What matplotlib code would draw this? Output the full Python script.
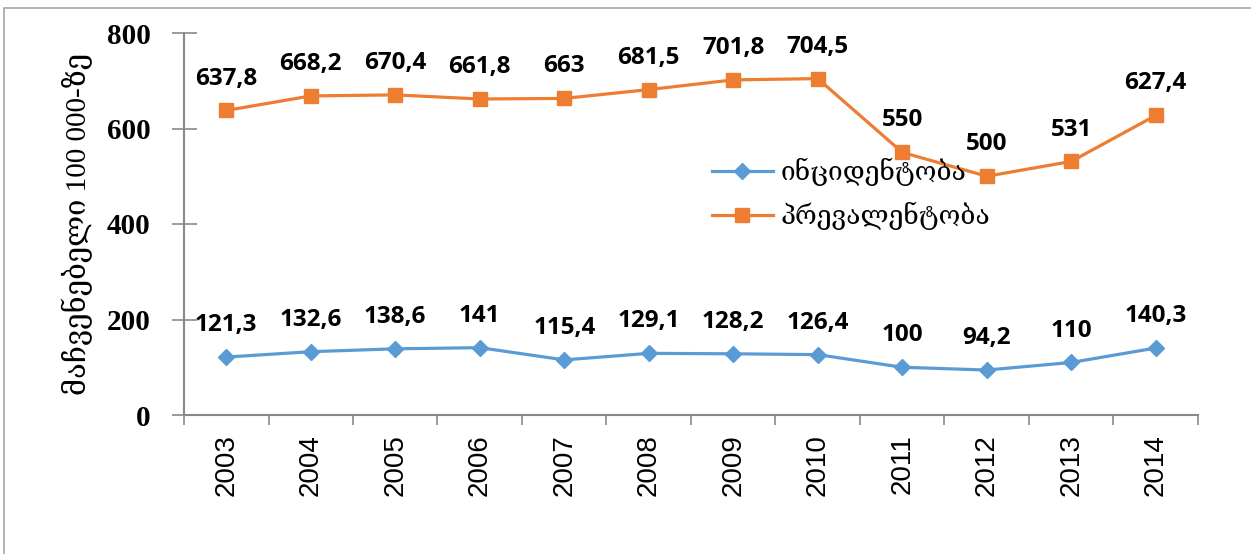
import matplotlib
matplotlib.use("Agg")
import matplotlib.pyplot as plt
from matplotlib.patches import Rectangle

# data
years = ["2003", "2004", "2005", "2006", "2007", "2008",
         "2009", "2010", "2011", "2012", "2013", "2014"]
incidence = [121.3, 132.6, 138.6, 141, 115.4, 129.1,
             128.2, 126.4, 100, 94.2, 110, 140.3]
prevalence = [637.8, 668.2, 670.4, 661.8, 663, 681.5,
              701.8, 704.5, 550, 500, 531, 627.4]
inc_name = "ინციდენტობა"
prev_name = "პრევალენტობა"
ylabel = "მაჩვენებელი 100 000-ზე"

BLUE = "#5B9BD5"
ORANGE = "#ED7D31"
GREY = "#898989"


def fmt(v):
    """Label like Excel with a comma decimal separator"""
    s = ("%.1f" % v).rstrip("0").rstrip(".")
    return s.replace(".", ",")


fig = plt.figure(figsize=(12.51, 5.54), dpi=100)
fig.patches.append(Rectangle((4 / 1251, -0.1), 1.2, 1 - 8 / 554 + 0.1,
                             transform=fig.transFigure, fill=False,
                             edgecolor="#a6a6a6", linewidth=1.2))
ax = fig.add_axes([184 / 1251, (554 - 415) / 554,
                   (1198 - 184) / 1251, (415 - 33) / 554])

x = list(range(len(years)))
ax.plot(x, incidence, color=BLUE, lw=2.3, marker="D", ms=8, label=inc_name)
ax.plot(x, prevalence, color=ORANGE, lw=2.3, marker="s", ms=9.5, label=prev_name)

for xi, v in zip(x, incidence):
    ax.annotate(fmt(v), (xi, v), xytext=(0, 23), textcoords="offset points",
                ha="center", va="center", fontsize=17.5, fontweight="bold",
                family="Open Sans")
for xi, v in zip(x, prevalence):
    ax.annotate(fmt(v), (xi, v), xytext=(0, 23), textcoords="offset points",
                ha="center", va="center", fontsize=17.5, fontweight="bold",
                family="Open Sans")

ax.set_xlim(-0.5, len(years) - 0.5)
ax.set_ylim(0, 800)

ax.tick_params(axis="y", direction="inout", length=18, width=1.2,
               color=GREY, pad=15)
ax.tick_params(axis="x", which="major", length=0, pad=14)
ax.tick_params(axis="x", which="minor", direction="out", length=7,
               width=1.2, color=GREY)

ax.set_yticks([0, 200, 400, 600, 800])
ax.set_yticklabels(["0", "200", "400", "600", "800"], family="Liberation Serif",
                   fontweight="bold", fontsize=21)
ax.set_xticks(x)
ax.set_xticklabels(years, rotation=90, family="Liberation Sans", fontsize=20)
ax.set_xticks([i - 0.5 for i in range(len(years) + 1)], minor=True)

for side in ("top", "right"):
    ax.spines[side].set_visible(False)
for side in ("left", "bottom"):
    ax.spines[side].set_color(GREY)
    ax.spines[side].set_linewidth(1.5)

ax.set_ylabel(ylabel, family=["Liberation Serif", "DejaVu Serif"],
              fontsize=21, labelpad=10)

ax.legend(loc="upper left", bbox_to_anchor=((712 - 184) / (1198 - 184), 1 - (158 - 33) / (415 - 33)),
          frameon=False, handlelength=2.3, handletextpad=0.3,
          labelspacing=0.6, borderaxespad=0, borderpad=0,
          prop={"family": ["DejaVu Serif", "DejaVu Sans"], "size": 19})

fig.savefig("out.png", dpi=100)
